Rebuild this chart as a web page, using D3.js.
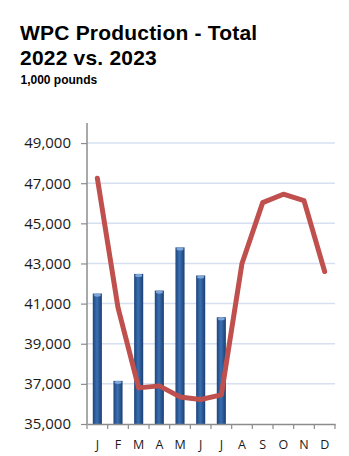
<!DOCTYPE html>
<html>
<head>
<meta charset="utf-8">
<script src="https://cdn.jsdelivr.net/npm/d3@7"></script>
<style>
  body { margin: 0; background: #fff; }
  svg { display: block; }
</style>
</head>
<body>
<div id="chart"></div>
<script>
const WIDTH = 349;
const HEIGHT = 456;

const months = ["J", "F", "M", "A", "M", "J", "J", "A", "S", "O", "N", "D"];
const prod2023 = [41500, 37150, 42480, 41650, 43800, 42400, 40320];
const prod2022 = [47250, 40800, 36800, 36900, 36350, 36220, 36450, 43000, 46030, 46450, 46130, 42600];
const yTicks = [35000, 37000, 39000, 41000, 43000, 45000, 47000, 49000];

const PLOT_L = 87, PLOT_R = 335, PLOT_T = 123, PLOT_B = 424;

const svg = d3.select("#chart")
  .append("svg")
  .attr("width", WIDTH)
  .attr("height", HEIGHT);

// bar gradient
const defs = svg.append("defs");
const grad = defs.append("linearGradient").attr("id", "barGrad")
  .attr("x1", "0%").attr("x2", "100%").attr("y1", "0%").attr("y2", "0%");
grad.append("stop").attr("offset", "0%").attr("stop-color", "#1d457a");
grad.append("stop").attr("offset", "45%").attr("stop-color", "#3b6fb3");
grad.append("stop").attr("offset", "100%").attr("stop-color", "#1a3f70");

// titles
svg.append("text").attr("x", 20).attr("y", 39.5)
  .attr("font-family", "Liberation Sans, Arial, sans-serif")
  .attr("font-weight", "bold").attr("font-size", 21)
  .attr("letter-spacing", 0.2)
  .text("WPC Production - Total");
svg.append("text").attr("x", 20).attr("y", 65)
  .attr("font-family", "Liberation Sans, Arial, sans-serif")
  .attr("font-weight", "bold").attr("font-size", 21)
  .attr("letter-spacing", 0.2)
  .text("2022 vs. 2023");
svg.append("text").attr("x", 20.5).attr("y", 83.5)
  .attr("font-family", "Liberation Sans, Arial, sans-serif")
  .attr("font-weight", "bold").attr("font-size", 12)
  .text("1,000 pounds");

const x = d3.scaleBand().domain(d3.range(12)).range([PLOT_L, PLOT_R]).padding(0);
const y = d3.scaleLinear().domain([35000, 50000]).range([PLOT_B, PLOT_T]);

// gridlines
svg.append("g")
  .selectAll("line")
  .data(yTicks.slice(1))
  .enter()
  .append("line")
  .attr("x1", PLOT_L).attr("x2", PLOT_R)
  .attr("y1", d => y(d)).attr("y2", d => y(d))
  .attr("stroke", "#d6e0f0").attr("stroke-width", 1.5);

// bars (2023)
const bw = x.bandwidth() * 0.44;
const bars = svg.append("g");
bars.selectAll("rect")
  .data(prod2023)
  .enter()
  .append("rect")
  .attr("x", (d, i) => x(i) + x.bandwidth() / 2 - bw / 2)
  .attr("y", d => y(d))
  .attr("width", bw)
  .attr("height", d => PLOT_B - y(d))
  .attr("fill", "url(#barGrad)");
bars.selectAll("ellipse")
  .data(prod2023)
  .enter()
  .append("ellipse")
  .attr("cx", (d, i) => x(i) + x.bandwidth() / 2)
  .attr("cy", d => y(d) + 1.5)
  .attr("rx", bw / 2 - 1)
  .attr("ry", 1.6)
  .attr("fill", "#7fa6d8");

// y axis
const yAxis = svg.append("g")
  .attr("transform", `translate(${PLOT_L},0)`)
  .call(d3.axisLeft(y).tickValues(yTicks).tickFormat(d3.format(",")).tickSize(6).tickPadding(10));
yAxis.select(".domain").remove();
yAxis.selectAll("line").attr("stroke", "#8c8c8c").attr("stroke-width", 1.2);
yAxis.selectAll("text")
  .attr("font-family", "Open Sans, sans-serif").attr("font-size", 15)
  .attr("fill", "#1a1a1a");
svg.append("line")
  .attr("x1", PLOT_L).attr("x2", PLOT_L).attr("y1", PLOT_T).attr("y2", PLOT_B)
  .attr("stroke", "#8c8c8c").attr("stroke-width", 1.5);

// x axis
const xAxis = svg.append("g")
  .attr("transform", `translate(0,${PLOT_B})`)
  .call(d3.axisBottom(x).tickFormat(i => months[i]).tickSize(0).tickPadding(16));
xAxis.select(".domain").attr("stroke", "#8c8c8c").attr("stroke-width", 1.5);
xAxis.selectAll("text")
  .attr("font-family", "Open Sans, sans-serif").attr("font-size", 12.5)
  .attr("fill", "#1a1a1a");
xAxis.selectAll(".bound")
  .data(d3.range(13))
  .enter()
  .append("line")
  .attr("class", "bound")
  .attr("x1", i => PLOT_L + i * x.step()).attr("x2", i => PLOT_L + i * x.step())
  .attr("y1", 0).attr("y2", 5)
  .attr("stroke", "#8c8c8c").attr("stroke-width", 1.2);

// line (2022)
const line = d3.line()
  .x((d, i) => x(i) + x.bandwidth() / 2)
  .y(d => y(d));
svg.append("path")
  .datum(prod2022)
  .attr("d", line)
  .attr("fill", "none")
  .attr("stroke", "#c0504d")
  .attr("stroke-width", 5)
  .attr("stroke-linejoin", "round")
  .attr("stroke-linecap", "round");
</script>
</body>
</html>
